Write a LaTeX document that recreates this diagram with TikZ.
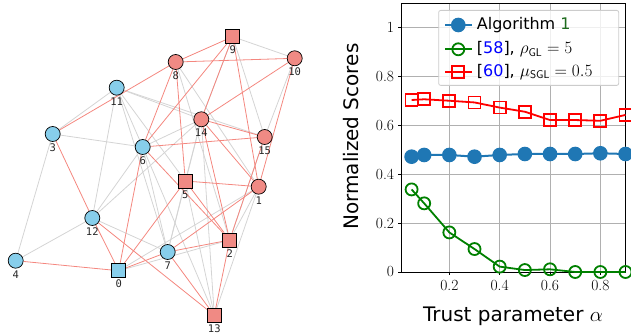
\documentclass[tikz,border=0pt]{standalone}
\usepackage{fontspec}
\usepackage{tikz}
\usetikzlibrary{positioning, backgrounds, plotmarks}
\setmonofont{DejaVu Sans Mono}
\newfontfamily\plotsans{DejaVu Sans}
\definecolor{nodeblue}{HTML}{87CEEB}
\definecolor{nodered}{HTML}{F08A84}
\definecolor{edgered}{HTML}{F4877F}
\definecolor{edgegray}{HTML}{D4D4D4}
\definecolor{algblue}{HTML}{1F77B4}
\definecolor{gridgray}{HTML}{B0B0B0}
\definecolor{citegreen}{HTML}{1E6B1E}
\definecolor{citeblue}{HTML}{0000FF}

\tikzset{
  gnode/.style={draw=black, line width=0.7pt, inner sep=0pt},
  bluecirc/.style={gnode, circle, fill=nodeblue, minimum size=15pt},
  redcirc/.style={gnode, circle, fill=nodered, minimum size=15pt},
  bluesq/.style={gnode, rectangle, fill=nodeblue, minimum size=14pt},
  redsq/.style={gnode, rectangle, fill=nodered, minimum size=14pt},
  numlabel/.style={font=\ttfamily\fontsize{10.5}{10.5}\selectfont, text=black!85, inner sep=0pt},
  redge/.style={edgered, line width=0.8pt},
  grayedge/.style={edgegray, line width=0.8pt},
  gridline/.style={gridgray, line width=0.6pt},
  ticklabel/.style={font=\fontsize{15.5}{17}\selectfont, inner sep=0pt},
  axlabel/.style={font=\plotsans\fontsize{20}{22}\selectfont, inner sep=0pt},
  legtext/.style={font=\plotsans\fontsize{16}{18}\selectfont, anchor=west, inner sep=0pt},
  algline/.style={algblue, line width=2pt, mark=*, mark size=6.3pt, mark options={fill=algblue, draw=algblue}},
  glline/.style={green!50!black, line width=1.8pt, mark=o, mark size=6pt, mark options={line width=1.8pt}},
  sglline/.style={red, line width=1.8pt, mark=square, mark size=6pt, mark options={line width=1.8pt}}
}

\begin{document}
\begin{tikzpicture}[x=1pt, y=1pt]
  \useasboundingbox (0,0) rectangle (631,334);

  % graph
  \foreach \n/\x/\y/\s in {0/118.7/63.3/bluesq, 1/258.7/147.3/redcirc, 2/229.7/94/redsq,
      3/52.7/200/bluecirc, 4/15.7/73.3/bluecirc, 5/185.3/153/redsq, 6/142.7/187/bluecirc,
      7/167.7/82/bluecirc, 8/175.7/272/redcirc, 9/232.7/297.3/redsq, 10/294.7/275.7/redcirc,
      11/116.7/246.3/bluecirc, 12/92.3/116/bluecirc, 13/214.3/18.7/redsq,
      14/201.3/214.7/redcirc, 15/264.7/197/redcirc} {
    \node[\s] (n\n) at (\x,\y) {};
    \node[numlabel, below=1.8pt of n\n] (l\n) {\n};
  }
  \begin{scope}[on background layer]
    \foreach \a/\b in {9/10, 9/15, 9/14, 8/2, 8/1, 11/3, 11/12, 11/6, 11/7, 11/15, 11/14,
        11/5, 3/6, 3/4, 14/6, 14/12, 14/5, 14/13, 14/7, 6/7, 6/12, 12/4, 12/7, 0/2, 0/1,
        10/15, 1/2, 1/13, 5/13, 5/7, 15/2, 6/13}
      \draw[grayedge] (n\a) -- (n\b);
    \foreach \a/\b in {9/8, 9/14, 9/6, 9/1, 8/10, 8/6, 8/5, 3/8, 10/14, 10/1, 14/15, 14/1,
        14/2, 6/15, 6/2, 5/2, 5/1, 5/0, 6/0, 3/12, 12/0, 12/13, 4/0, 7/2, 7/13, 7/1, 2/13,
        2/15, 0/7}
      \draw[redge] (n\a) -- (n\b);
  \end{scope}

  % scores
  \begin{scope}[shift={(399,62)}, x=251.7pt, y=244.3pt]
    \foreach \v in {0.2,0.4,0.6,0.8}
      \draw[gridline] (\v,0) -- (\v,1.1);
    \foreach \v in {0.2,0.4,0.6,0.8,1}
      \draw[gridline] (0.011,\v) -- (0.9,\v);
    \draw[line width=0.8pt] (0.011,0) rectangle (0.9,1.1);
    \foreach \v/\t in {0/0, 0.2/0.2, 0.4/0.4, 0.6/0.6, 0.8/0.8, 1/1} {
      \draw[line width=0.8pt] (0.011,\v) -- ++(-3.5pt,0);
      \node[ticklabel, anchor=east] (yt\t) at ([xshift=-7.5pt]0.011,\v) {\t};
    }
    \foreach \v in {0.2,0.4,0.6,0.8} {
      \draw[line width=0.8pt] (\v,0) -- ++(0,-3.5pt);
      \node[ticklabel, anchor=north] (xt\v) at ([yshift=-8pt]\v,0) {\v};
    }
    \draw[sglline] plot coordinates {(0.05,0.704) (0.1,0.707) (0.2,0.701) (0.3,0.694)
      (0.4,0.673) (0.5,0.656) (0.6,0.622) (0.7,0.622) (0.8,0.619) (0.9,0.643)};
    \draw[algline] plot coordinates {(0.05,0.472) (0.1,0.479) (0.2,0.479) (0.3,0.472)
      (0.4,0.479) (0.5,0.483) (0.6,0.483) (0.7,0.483) (0.8,0.486) (0.9,0.483)};
    \draw[glline] plot coordinates {(0.05,0.338) (0.1,0.281) (0.2,0.162) (0.3,0.094)
      (0.4,0.022) (0.5,0.008) (0.6,0.011) (0.7,0) (0.8,0) (0.9,0)};
  \end{scope}
  \node[axlabel, rotate=90] (ylab) at (350.7,197.3) {Normalized Scores};
  \node[axlabel] (xlab) at (513,17.5) {Trust parameter $\alpha$};

  % legend
  \node[draw=black!20, fill=white, fill opacity=0.8, rounded corners=2pt, line width=0.8pt,
        minimum width=180pt, minimum height=75pt, anchor=north west] (legend) at (438.3,324) {};
  \draw[algline, mark indices={2}] plot coordinates {(445,309) (458.3,309) (471.7,309)};
  \node[legtext] (alg) at (476.7,309) {Algorithm \textcolor{citegreen}{1}};
  \draw[glline, mark indices={2}] plot coordinates {(445,284.7) (458.3,284.7) (471.7,284.7)};
  \node[legtext] (gl) at (476.7,284.7) {[\textcolor{citeblue}{58}], $\rho_{\mathsf{GL}} = 5$};
  \draw[sglline, mark indices={2}] plot coordinates {(445,262.3) (458.3,262.3) (471.7,262.3)};
  \node[legtext] (sgl) at (476.7,262.3) {[\textcolor{citeblue}{60}], $\mu_{\mathsf{SGL}} = 0.5$};
\end{tikzpicture}
\end{document}
